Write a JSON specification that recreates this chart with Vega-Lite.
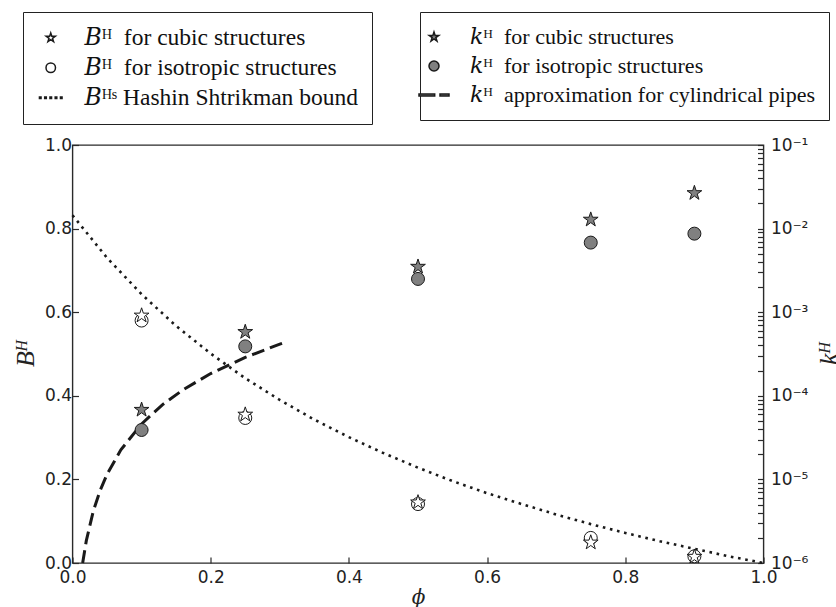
{
  "$schema": "https://vega.github.io/schema/vega-lite/v6.json",
  "width": 691,
  "height": 418,
  "autosize": {"type": "none"},
  "padding": {"left": 72.5, "top": 145, "right": 72.5, "bottom": 44},
  "background": "white",
  "config": {
    "view": {"stroke": "#2a2a2a", "strokeWidth": 1.4},
    "axis": {
      "domain": false,
      "grid": false,
      "labelFont": "DejaVu Sans",
      "labelFontSize": 17,
      "labelColor": "#222222",
      "tickColor": "#2a2a2a",
      "tickWidth": 1.2,
      "titleFont": "Liberation Serif",
      "titleFontStyle": "italic",
      "titleFontWeight": "normal",
      "titleFontSize": 26,
      "titleColor": "#222222"
    },
    "legend": {
      "orient": "none",
      "strokeColor": "#222222",
      "fillColor": "white",
      "cornerRadius": 0,
      "labelFont": "Liberation Serif, DejaVu Serif",
      "labelFontSize": 23,
      "labelColor": "#111111",
      "labelLimit": 600,
      "rowPadding": 5,
      "padding": 14
    }
  },
  "datasets": {
    "bstar": [
      {"phi": 0.1, "B": 0.592, "series": "bc"},
      {"phi": 0.25, "B": 0.355, "series": "bc"},
      {"phi": 0.5, "B": 0.145, "series": "bc"},
      {"phi": 0.75, "B": 0.049, "series": "bc"},
      {"phi": 0.9, "B": 0.015, "series": "bc"}
    ],
    "bcirc": [
      {"phi": 0.1, "B": 0.58, "series": "bi"},
      {"phi": 0.25, "B": 0.347, "series": "bi"},
      {"phi": 0.5, "B": 0.141, "series": "bi"},
      {"phi": 0.75, "B": 0.06, "series": "bi"},
      {"phi": 0.9, "B": 0.016, "series": "bi"}
    ],
    "bhs": [
      {"phi": 0.0, "B": 0.832},
      {"phi": 0.05, "B": 0.730},
      {"phi": 0.1, "B": 0.643},
      {"phi": 0.15, "B": 0.567},
      {"phi": 0.2, "B": 0.501},
      {"phi": 0.25, "B": 0.442},
      {"phi": 0.3, "B": 0.390},
      {"phi": 0.35, "B": 0.343},
      {"phi": 0.4, "B": 0.301},
      {"phi": 0.45, "B": 0.263},
      {"phi": 0.5, "B": 0.228},
      {"phi": 0.55, "B": 0.196},
      {"phi": 0.6, "B": 0.167},
      {"phi": 0.65, "B": 0.141},
      {"phi": 0.7, "B": 0.116},
      {"phi": 0.75, "B": 0.093},
      {"phi": 0.8, "B": 0.072},
      {"phi": 0.85, "B": 0.052},
      {"phi": 0.9, "B": 0.034},
      {"phi": 0.95, "B": 0.016},
      {"phi": 1.0, "B": 0.0}
    ],
    "kstar": [
      {"phi": 0.1, "k": 6.8e-5, "series": "kc"},
      {"phi": 0.25, "k": 5.8e-4, "series": "kc"},
      {"phi": 0.5, "k": 3.5e-3, "series": "kc"},
      {"phi": 0.75, "k": 1.28e-2, "series": "kc"},
      {"phi": 0.9, "k": 2.66e-2, "series": "kc"}
    ],
    "kcirc": [
      {"phi": 0.1, "k": 3.9e-5, "series": "ki"},
      {"phi": 0.25, "k": 3.9e-4, "series": "ki"},
      {"phi": 0.5, "k": 2.5e-3, "series": "ki"},
      {"phi": 0.75, "k": 6.8e-3, "series": "ki"},
      {"phi": 0.9, "k": 8.7e-3, "series": "ki"}
    ],
    "kpipe": [
      {"phi": 0.0147, "k": 1.0e-6},
      {"phi": 0.02, "k": 1.85e-6},
      {"phi": 0.03, "k": 4.15e-6},
      {"phi": 0.04, "k": 7.38e-6},
      {"phi": 0.05, "k": 1.153e-5},
      {"phi": 0.07, "k": 2.26e-5},
      {"phi": 0.1, "k": 4.61e-5},
      {"phi": 0.13, "k": 7.8e-5},
      {"phi": 0.16, "k": 1.181e-4},
      {"phi": 0.2, "k": 1.845e-4},
      {"phi": 0.25, "k": 2.88e-4},
      {"phi": 0.3, "k": 4.15e-4},
      {"phi": 0.305, "k": 4.29e-4}
    ]
  },
  "encoding": {
    "x": {
      "field": "phi",
      "type": "quantitative",
      "scale": {"domain": [0, 1], "nice": false, "zero": false},
      "axis": {
        "orient": "bottom",
        "values": [0, 0.2, 0.4, 0.6, 0.8, 1.0],
        "format": ".1f",
        "tickSize": -6,
        "labelPadding": 12,
        "labelFlush": false,
        "title": "ϕ",
        "titleFont": "DejaVu Serif",
        "titleFontSize": 20,
        "titlePadding": 2
      }
    }
  },
  "layer": [
    {
      "layer": [
        {
          "data": {"name": "bhs"},
          "mark": {"type": "line", "stroke": "#1a1a1a", "strokeWidth": 2.6, "strokeDash": [2.6, 4.7]},
          "encoding": {
            "y": {
              "field": "B",
              "type": "quantitative",
              "scale": {"domain": [0, 1], "nice": false},
              "axis": {
                "orient": "left",
                "values": [0, 0.2, 0.4, 0.6, 0.8, 1.0],
                "format": ".1f",
                "tickSize": -6,
                "labelPadding": 7,
                "labelFlush": false,
                "title": "Bᴴ",
                "titlePadding": 6
              }
            }
          }
        },
        {
          "data": {"name": "bcirc"},
          "mark": {"type": "point", "filled": true, "fill": "white", "stroke": "#1a1a1a", "strokeWidth": 1, "opacity": 1, "size": 169},
          "encoding": {
            "y": {"field": "B", "type": "quantitative"},
            "shape": {
              "field": "series",
              "type": "nominal",
              "scale": {
                "domain": ["bc", "bi", "hs"],
                "range": [
                  "M0,-1L0.2245,-0.309L0.9511,-0.309L0.3633,0.118L0.5878,0.809L0,0.382L-0.5878,0.809L-0.3633,0.118L-0.9511,-0.309L-0.2245,-0.309Z",
                  "circle",
                  "M-2.384,-0.17h0.34v0.34h-0.34Z M-1.277,-0.17h0.34v0.34h-0.34Z M-0.17,-0.17h0.34v0.34h-0.34Z M0.937,-0.17h0.34v0.34h-0.34Z M2.044,-0.17h0.34v0.34h-0.34Z"
                ]
              },
              "legend": {
                "title": null,
                "legendX": -49.5,
                "legendY": -133,
                "padding": 14,
                "labelFontSize": 23.5,
                "symbolSize": 90,
                "symbolOffset": 2,
                "labelOffset": 22,
                "labelExpr": "datum.value === 'bc' ? '𝐵ᴴ\u2002for cubic structures' : datum.value === 'bi' ? '𝐵ᴴ\u2002for isotropic structures' : '𝐵ᴴˢ Hashin Shtrikman bound'"
              }
            }
          }
        },
        {
          "data": {"name": "bstar"},
          "mark": {"type": "point", "filled": true, "fill": "white", "stroke": "#1a1a1a", "strokeWidth": 1, "opacity": 1, "size": 240},
          "encoding": {
            "y": {"field": "B", "type": "quantitative"},
            "shape": {"field": "series", "type": "nominal"}
          }
        }
      ]
    },
    {
      "layer": [
        {
          "data": {"name": "kpipe"},
          "mark": {"type": "line", "stroke": "#1a1a1a", "strokeWidth": 3, "strokeDash": [13, 6]},
          "encoding": {
            "y": {
              "field": "k",
              "type": "quantitative",
              "scale": {"type": "log", "domain": [1e-6, 0.1], "nice": false},
              "axis": {
                "orient": "right",
                "values": [1e-6, 2e-6, 3e-6, 4e-6, 5e-6, 6e-6, 7e-6, 8e-6, 9e-6,
                           1e-5, 2e-5, 3e-5, 4e-5, 5e-5, 6e-5, 7e-5, 8e-5, 9e-5,
                           1e-4, 2e-4, 3e-4, 4e-4, 5e-4, 6e-4, 7e-4, 8e-4, 9e-4,
                           1e-3, 2e-3, 3e-3, 4e-3, 5e-3, 6e-3, 7e-3, 8e-3, 9e-3,
                           1e-2, 2e-2, 3e-2, 4e-2, 5e-2, 6e-2, 7e-2, 8e-2, 9e-2, 1e-1],
                "labelExpr": "abs(log(datum.value) / LN10 - round(log(datum.value) / LN10)) < 0.001 ? '10⁻' + ['⁰', '¹', '²', '³', '⁴', '⁵', '⁶'][-round(log(datum.value) / LN10)] : ''",
                "labelOverlap": false,
                "labelFlush": false,
                "tickSize": -6,
                "labelPadding": 13,
                "encode": {
                  "ticks": {
                    "update": {
                      "x2": {"signal": "abs(log(datum.value) / LN10 - round(log(datum.value) / LN10)) < 0.001 ? -6 : -3"}
                    }
                  }
                },
                "title": "kᴴ",
                "titleAngle": 270,
                "titlePadding": 34
              }
            }
          }
        },
        {
          "data": {"name": "kstar"},
          "mark": {"type": "point", "filled": true, "fill": "#808080", "stroke": "#1a1a1a", "strokeWidth": 1, "opacity": 1, "size": 240},
          "encoding": {
            "y": {"field": "k", "type": "quantitative"},
            "shape": {
              "field": "series",
              "type": "nominal",
              "scale": {
                "domain": ["kc", "ki", "kp"],
                "range": [
                  "M0,-1L0.2245,-0.309L0.9511,-0.309L0.3633,0.118L0.5878,0.809L0,0.382L-0.5878,0.809L-0.3633,0.118L-0.9511,-0.309L-0.2245,-0.309Z",
                  "circle",
                  "M-3,-0.2H0.14V0.2H-3Z M1.2,-0.2H3V0.2H1.2Z"
                ]
              },
              "legend": {
                "title": null,
                "legendX": 347.5,
                "legendY": -133,
                "padding": 14,
                "rowPadding": 7,
                "labelFontSize": 22,
                "symbolSize": 100,
                "symbolOffset": -11,
                "labelOffset": 25,
                "labelExpr": "datum.value === 'kc' ? '𝑘ᴴ\u2002for cubic structures' : datum.value === 'ki' ? '𝑘ᴴ\u2002for isotropic structures' : '𝑘ᴴ\u2002approximation for cylindrical pipes'"
              }
            }
          }
        },
        {
          "data": {"name": "kcirc"},
          "mark": {"type": "point", "filled": true, "fill": "#808080", "stroke": "#1a1a1a", "strokeWidth": 1, "opacity": 1, "size": 169},
          "encoding": {
            "y": {"field": "k", "type": "quantitative"},
            "shape": {"field": "series", "type": "nominal"}
          }
        }
      ]
    }
  ],
  "resolve": {"scale": {"y": "independent", "shape": "independent"}}
}
